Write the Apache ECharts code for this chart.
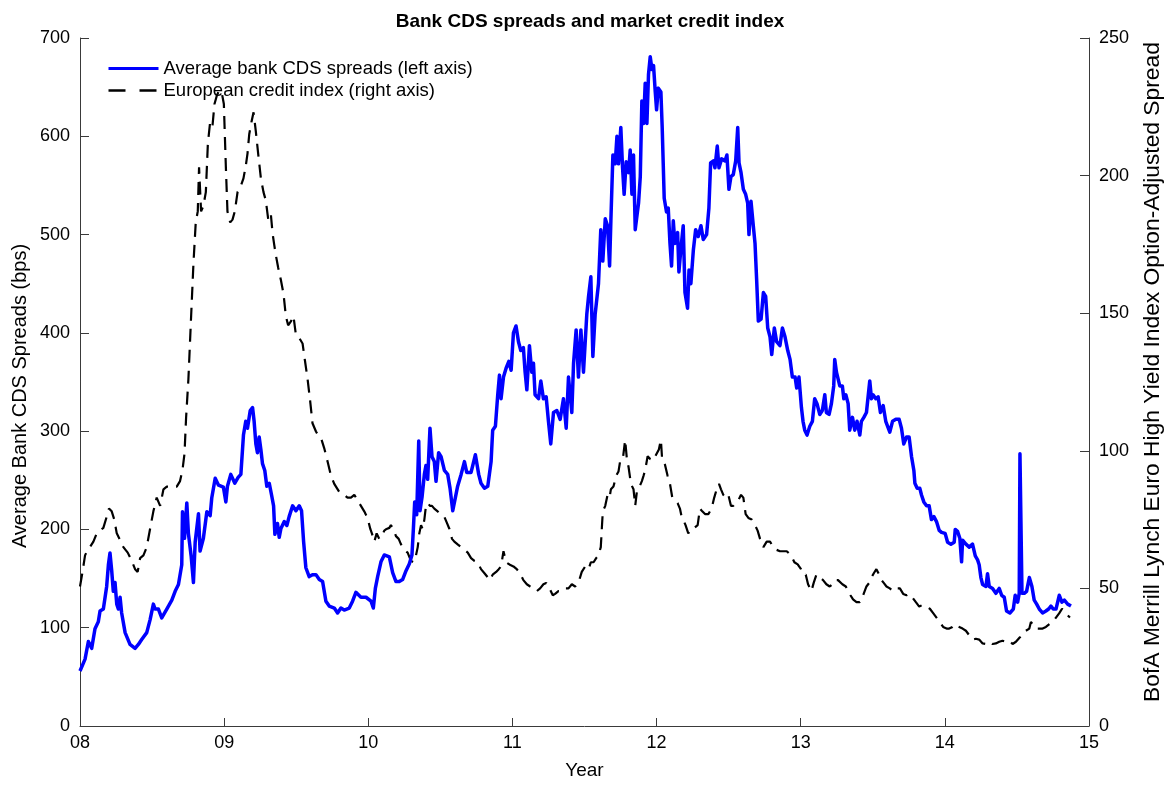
<!DOCTYPE html>
<html>
<head>
<meta charset="utf-8">
<script src="https://cdn.jsdelivr.net/npm/echarts@6/dist/echarts.min.js"></script>
<style>
  html, body { margin: 0; padding: 0; background: #fff; }
  #chart { width: 1172px; height: 785px; }
</style>
</head>
<body>
<div id="chart"></div>
<script>
// Average bank CDS spreads (bps, left axis), sampled in decimal years
const cdsYear = [
  2008.000, 2008.035, 2008.058, 2008.081, 2008.104, 2008.127, 2008.139, 2008.162, 2008.185, 2008.197,
  2008.208, 2008.220, 2008.231, 2008.243, 2008.255, 2008.266, 2008.278, 2008.289, 2008.313, 2008.347,
  2008.382, 2008.405, 2008.428, 2008.463, 2008.486, 2008.509, 2008.521, 2008.544, 2008.567, 2008.602,
  2008.637, 2008.660, 2008.683, 2008.706, 2008.711, 2008.725, 2008.741, 2008.752, 2008.771, 2008.787,
  2008.799, 2008.822, 2008.833, 2008.856, 2008.880, 2008.903, 2008.914, 2008.938, 2008.961, 2008.995,
  2009.012, 2009.023, 2009.046, 2009.058, 2009.074, 2009.097, 2009.116, 2009.134, 2009.150, 2009.162,
  2009.181, 2009.197, 2009.208, 2009.220, 2009.231, 2009.243, 2009.255, 2009.266, 2009.282, 2009.296,
  2009.313, 2009.329, 2009.343, 2009.352, 2009.370, 2009.382, 2009.394, 2009.417, 2009.435, 2009.451,
  2009.475, 2009.498, 2009.521, 2009.537, 2009.551, 2009.567, 2009.590, 2009.613, 2009.637, 2009.660,
  2009.683, 2009.706, 2009.729, 2009.764, 2009.787, 2009.810, 2009.833, 2009.868, 2009.891, 2009.914,
  2009.949, 2009.984, 2010.019, 2010.035, 2010.049, 2010.065, 2010.088, 2010.111, 2010.146, 2010.169,
  2010.192, 2010.215, 2010.238, 2010.262, 2010.285, 2010.303, 2010.313, 2010.322, 2010.336, 2010.350,
  2010.359, 2010.373, 2010.389, 2010.400, 2010.412, 2010.428, 2010.442, 2010.458, 2010.470, 2010.488,
  2010.505, 2010.528, 2010.551, 2010.567, 2010.586, 2010.597, 2010.620, 2010.644, 2010.667, 2010.683,
  2010.713, 2010.743, 2010.766, 2010.782, 2010.806, 2010.829, 2010.852, 2010.863, 2010.882, 2010.898,
  2010.910, 2010.921, 2010.938, 2010.956, 2010.975, 2010.991, 2011.007, 2011.025, 2011.042, 2011.058,
  2011.076, 2011.088, 2011.100, 2011.118, 2011.134, 2011.146, 2011.157, 2011.181, 2011.197, 2011.215,
  2011.234, 2011.250, 2011.266, 2011.285, 2011.308, 2011.331, 2011.354, 2011.373, 2011.389, 2011.412,
  2011.424, 2011.442, 2011.458, 2011.475, 2011.493, 2011.516, 2011.528, 2011.544, 2011.558, 2011.574,
  2011.597, 2011.613, 2011.627, 2011.644, 2011.660, 2011.674, 2011.683, 2011.697, 2011.713, 2011.725,
  2011.736, 2011.752, 2011.764, 2011.775, 2011.789, 2011.806, 2011.817, 2011.829, 2011.840, 2011.852,
  2011.863, 2011.875, 2011.887, 2011.898, 2011.910, 2011.921, 2011.933, 2011.944, 2011.956, 2011.968,
  2011.979, 2011.991, 2012.000, 2012.012, 2012.030, 2012.039, 2012.046, 2012.053, 2012.063, 2012.069,
  2012.081, 2012.093, 2012.104, 2012.116, 2012.127, 2012.146, 2012.155, 2012.169, 2012.185, 2012.197,
  2012.215, 2012.225, 2012.238, 2012.255, 2012.271, 2012.289, 2012.308, 2012.324, 2012.347, 2012.363,
  2012.375, 2012.394, 2012.405, 2012.421, 2012.433, 2012.451, 2012.475, 2012.488, 2012.502, 2012.516,
  2012.532, 2012.549, 2012.563, 2012.572, 2012.586, 2012.602, 2012.618, 2012.632, 2012.641, 2012.655,
  2012.671, 2012.683, 2012.694, 2012.706, 2012.725, 2012.741, 2012.757, 2012.771, 2012.787, 2012.799,
  2012.817, 2012.833, 2012.856, 2012.873, 2012.891, 2012.910, 2012.926, 2012.942, 2012.961, 2012.972,
  2012.988, 2013.005, 2013.016, 2013.028, 2013.044, 2013.063, 2013.081, 2013.097, 2013.113, 2013.132,
  2013.150, 2013.167, 2013.178, 2013.197, 2013.213, 2013.229, 2013.236, 2013.248, 2013.271, 2013.289,
  2013.299, 2013.313, 2013.329, 2013.340, 2013.359, 2013.375, 2013.391, 2013.410, 2013.421, 2013.438,
  2013.456, 2013.468, 2013.479, 2013.491, 2013.502, 2013.521, 2013.537, 2013.553, 2013.572, 2013.590,
  2013.618, 2013.637, 2013.660, 2013.683, 2013.699, 2013.715, 2013.734, 2013.752, 2013.769, 2013.785,
  2013.792, 2013.808, 2013.826, 2013.838, 2013.854, 2013.873, 2013.891, 2013.907, 2013.924, 2013.942,
  2013.961, 2013.977, 2014.002, 2014.019, 2014.042, 2014.065, 2014.072, 2014.088, 2014.104, 2014.116,
  2014.123, 2014.146, 2014.169, 2014.192, 2014.211, 2014.227, 2014.238, 2014.250, 2014.262, 2014.285,
  2014.296, 2014.308, 2014.331, 2014.354, 2014.366, 2014.377, 2014.394, 2014.412, 2014.428, 2014.451,
  2014.475, 2014.488, 2014.505, 2014.516, 2014.521, 2014.530, 2014.535, 2014.551, 2014.567, 2014.586,
  2014.604, 2014.620, 2014.637, 2014.655, 2014.678, 2014.701, 2014.720, 2014.736, 2014.752, 2014.771,
  2014.794, 2014.812, 2014.829, 2014.852, 2014.875
];
const cdsValue = [
  56, 68, 86, 79, 99, 106, 117, 119, 142, 164,
  176, 158, 137, 146, 124, 119, 131, 115, 95, 83,
  79, 83, 88, 95, 108, 124, 119, 119, 110, 119,
  128, 137, 144, 164, 218, 191, 227, 196, 173, 146,
  187, 216, 178, 191, 218, 214, 232, 252, 245, 243,
  228, 244, 256, 258, 247, 253, 256, 296, 310, 303,
  321, 324, 310, 287, 278, 294, 281, 267, 260, 244,
  247, 235, 224, 195, 206, 192, 201, 208, 204, 213,
  224, 219, 224, 219, 188, 161, 152, 154, 154, 149,
  147, 127, 122, 120, 115, 120, 118, 120, 127, 136,
  131, 131, 127, 120, 140, 152, 167, 174, 172, 156,
  147, 147, 149, 158, 165, 174, 201, 228, 215, 290,
  219, 233, 256, 265, 251, 303, 274, 269, 249, 278,
  274, 260, 256, 242, 219, 221, 244, 256, 269, 258,
  258, 276, 256, 247, 242, 244, 269, 301, 305, 337,
  357, 333, 355, 364, 371, 362, 400, 407, 391, 382,
  385, 360, 342, 387, 360, 369, 337, 333, 351, 333,
  335, 310, 287, 319, 321, 312, 333, 303, 355, 319,
  369, 403, 355, 403, 360, 419, 437, 457, 376, 419,
  450, 505, 473, 516, 509, 468, 514, 581, 572, 600,
  572, 609, 568, 541, 574, 563, 586, 541, 581, 505,
  518, 532, 559, 636, 613, 654, 613, 663, 681, 668,
  672, 645, 627, 649, 645, 609, 573, 537, 539, 523,
  527, 491, 468, 514, 491, 502, 462, 486, 509, 441,
  425, 464, 450, 484, 505, 498, 509, 495, 500, 527,
  573, 575, 568, 590, 568, 577, 575, 581, 546, 559,
  561, 575, 609, 573, 563, 546, 541, 532, 500, 534,
  509, 491, 455, 412, 414, 441, 437, 405, 396, 378,
  405, 391, 387, 405, 396, 382, 373, 355, 355, 344,
  355, 324, 310, 301, 296, 305, 310, 333, 328, 317,
  321, 337, 319, 317, 328, 346, 373, 360, 346, 346,
  333, 337, 328, 301, 314, 301, 310, 296, 310, 314,
  319, 317, 351, 333, 337, 333, 335, 319, 326, 310,
  299, 310, 312, 312, 303, 287, 294, 294, 274, 260,
  247, 242, 242, 235, 228, 224, 224, 210, 213, 208,
  199, 197, 196, 187, 185, 187, 200, 198, 191, 167,
  189, 185, 182, 185, 173, 169, 164, 151, 144, 142,
  155, 142, 140, 135, 137, 140, 133, 131, 117, 115,
  119, 133, 126, 135, 277, 277, 135, 135, 137, 151,
  142, 128, 124, 119, 115, 117, 119, 122, 119, 119,
  133, 126, 128, 124, 122
];

// European high yield credit index option-adjusted spread (right axis)
const creditYear = [
  2008.000, 2008.016, 2008.035, 2008.053, 2008.069, 2008.093, 2008.116, 2008.139, 2008.162, 2008.185,
  2008.201, 2008.220, 2008.238, 2008.255, 2008.278, 2008.301, 2008.331, 2008.359, 2008.382, 2008.400,
  2008.417, 2008.440, 2008.463, 2008.486, 2008.509, 2008.532, 2008.556, 2008.579, 2008.602, 2008.637,
  2008.671, 2008.694, 2008.711, 2008.725, 2008.736, 2008.752, 2008.771, 2008.787, 2008.803, 2008.817,
  2008.826, 2008.840, 2008.856, 2008.873, 2008.887, 2008.903, 2008.919, 2008.933, 2008.949, 2008.965,
  2008.984, 2008.998, 2009.012, 2009.023, 2009.042, 2009.058, 2009.074, 2009.093, 2009.111, 2009.134,
  2009.150, 2009.162, 2009.174, 2009.190, 2009.204, 2009.220, 2009.236, 2009.255, 2009.273, 2009.289,
  2009.306, 2009.324, 2009.336, 2009.347, 2009.359, 2009.375, 2009.394, 2009.412, 2009.428, 2009.444,
  2009.463, 2009.481, 2009.498, 2009.521, 2009.544, 2009.560, 2009.579, 2009.597, 2009.613, 2009.637,
  2009.660, 2009.676, 2009.694, 2009.718, 2009.741, 2009.764, 2009.799, 2009.833, 2009.856, 2009.880,
  2009.903, 2009.926, 2009.949, 2009.972, 2009.995, 2010.014, 2010.025, 2010.042, 2010.058, 2010.076,
  2010.095, 2010.111, 2010.127, 2010.146, 2010.157, 2010.174, 2010.192, 2010.211, 2010.227, 2010.250,
  2010.273, 2010.296, 2010.313, 2010.331, 2010.343, 2010.354, 2010.366, 2010.377, 2010.389, 2010.400,
  2010.412, 2010.428, 2010.442, 2010.458, 2010.481, 2010.505, 2010.528, 2010.544, 2010.563, 2010.581,
  2010.597, 2010.620, 2010.644, 2010.667, 2010.690, 2010.713, 2010.736, 2010.759, 2010.782, 2010.806,
  2010.829, 2010.845, 2010.863, 2010.887, 2010.905, 2010.921, 2010.938, 2010.956, 2010.979, 2011.007,
  2011.030, 2011.053, 2011.076, 2011.100, 2011.123, 2011.146, 2011.169, 2011.192, 2011.215, 2011.234,
  2011.257, 2011.280, 2011.296, 2011.319, 2011.343, 2011.366, 2011.389, 2011.412, 2011.435, 2011.458,
  2011.481, 2011.505, 2011.528, 2011.544, 2011.563, 2011.581, 2011.597, 2011.613, 2011.620, 2011.627,
  2011.644, 2011.660, 2011.674, 2011.683, 2011.701, 2011.720, 2011.736, 2011.748, 2011.766, 2011.782,
  2011.794, 2011.806, 2011.822, 2011.840, 2011.852, 2011.863, 2011.882, 2011.898, 2011.910, 2011.921,
  2011.938, 2011.956, 2011.975, 2011.991, 2012.016, 2012.030, 2012.039, 2012.058, 2012.076, 2012.093,
  2012.109, 2012.127, 2012.146, 2012.162, 2012.174, 2012.185, 2012.201, 2012.220, 2012.238, 2012.262,
  2012.285, 2012.301, 2012.317, 2012.336, 2012.359, 2012.382, 2012.400, 2012.417, 2012.433, 2012.447,
  2012.463, 2012.479, 2012.498, 2012.516, 2012.532, 2012.549, 2012.567, 2012.586, 2012.602, 2012.618,
  2012.637, 2012.660, 2012.683, 2012.701, 2012.718, 2012.741, 2012.764, 2012.787, 2012.810, 2012.833,
  2012.856, 2012.880, 2012.903, 2012.933, 2012.956, 2012.979, 2013.002, 2013.019, 2013.035, 2013.051,
  2013.074, 2013.090, 2013.109, 2013.132, 2013.155, 2013.178, 2013.201, 2013.220, 2013.236, 2013.259,
  2013.289, 2013.313, 2013.329, 2013.345, 2013.363, 2013.387, 2013.410, 2013.433, 2013.456, 2013.475,
  2013.491, 2013.507, 2013.525, 2013.544, 2013.560, 2013.576, 2013.595, 2013.618, 2013.641, 2013.664,
  2013.688, 2013.711, 2013.734, 2013.752, 2013.775, 2013.799, 2013.822, 2013.845, 2013.868, 2013.896,
  2013.919, 2013.942, 2013.965, 2013.988, 2014.012, 2014.030, 2014.053, 2014.076, 2014.100, 2014.123,
  2014.146, 2014.169, 2014.192, 2014.215, 2014.238, 2014.262, 2014.285, 2014.308, 2014.331, 2014.354,
  2014.377, 2014.400, 2014.424, 2014.447, 2014.470, 2014.493, 2014.516, 2014.539, 2014.562, 2014.586,
  2014.597, 2014.609, 2014.632, 2014.655, 2014.678, 2014.701, 2014.725, 2014.748, 2014.771, 2014.794,
  2014.813, 2014.829, 2014.852, 2014.868
];
const creditValue = [
  50.7, 55.5, 62, 64, 65, 67, 70, 71, 72, 76,
  79, 78, 75, 70, 67.6, 65, 63, 60, 57, 56,
  61, 62, 65, 71.6, 78, 83, 80, 86, 87, 87,
  87, 89, 93, 99, 112, 126, 149, 168, 183, 187,
  203, 187, 189, 194, 211.5, 219.6, 218, 226, 229, 231,
  230, 226, 203, 187, 183, 184, 187, 194, 195.5, 199,
  203.5, 208, 215, 219.6, 223, 216, 208, 199, 194, 191,
  184, 186, 179, 175, 171, 166.5, 162, 157, 149, 145.6,
  147, 149, 142, 141, 139, 133, 126, 118, 110, 107,
  105, 104, 101, 96, 91, 88, 85, 84, 83, 83,
  84, 82, 80, 78, 75.6, 71.6, 70, 67, 70, 68,
  69, 71, 71.6, 72, 73, 71.6, 69, 68, 66, 64,
  63, 60, 59.5, 62, 65, 70, 73, 71.6, 75, 80,
  81, 80, 80, 79, 78, 77, 76, 74, 71.6, 68,
  67, 66, 65, 64, 63, 61, 60, 59.5, 57, 55.5,
  54, 53, 55, 56, 57, 58, 63.5, 59.5, 58.7, 58,
  57, 55.5, 53, 51.5, 50.7, 50, 49, 50, 51.5, 52,
  50, 47.5, 48, 49, 49, 50, 50, 51.5, 50.7, 52,
  56, 58, 57, 59.5, 59.5, 61, 62, 65, 71.6, 78,
  80, 84, 83, 86, 87, 91, 92.5, 96.5, 97, 104,
  97, 94, 88, 86, 80, 85, 87, 89, 91, 93,
  98, 97, 96.5, 98, 100.5, 104, 96.5, 95, 91, 88,
  83, 82, 81, 79, 76, 75, 73, 70, 71.6, 72,
  73, 79, 78, 77, 77, 79, 83, 86, 88, 86,
  84, 83, 84, 80, 80, 81, 82, 84, 83, 77,
  75.6, 75, 73, 71, 68, 65, 67, 67, 65, 64,
  63.5, 63.5, 63.5, 62, 59.5, 58.7, 57, 55, 55, 51.5,
  49, 52, 55, 54, 53, 51.5, 50.7, 51.5, 53, 53,
  51.5, 50.7, 49, 47.5, 46, 45, 45, 47.5, 50.7, 52,
  54, 55.5, 57, 55, 53, 52, 50.7, 50, 49, 50,
  50, 48, 47.5, 48, 46.7, 45, 43.4, 44, 43.4, 42.6,
  41, 39.4, 37.8, 36, 35.4, 35.4, 36, 37, 36, 35.4,
  34.6, 33, 31.4, 31.7, 31.4, 30, 29.8, 30.6, 29.8, 30,
  30.6, 31, 30.6, 31, 29.8, 30.6, 32, 33, 34.6, 35.4,
  37.8, 37.8, 35.4, 35.4, 35.4, 36, 37, 37.8, 39.4, 41,
  42.6, 41.8, 40.2, 39.4
];

// Axis ranges and tick spacing
const yearTicks = { min: 2008, max: 2015, step: 1 };
const cdsTicks = { min: 0, max: 700, step: 100 };
const creditTicks = { min: 0, max: 250, step: 50 };

const cdsName = 'Average bank CDS spreads (left axis)';
const creditName = 'European credit index (right axis)';
const leftTitle = 'Average Bank CDS Spreads (bps)';
const rightTitle = 'BofA Merrill Lynch Euro High Yield Index Option-Adjusted Spread';

const cdsData = cdsYear.map((t, i) => [t, cdsValue[i]]);
const creditData = creditYear.map((t, i) => [t, creditValue[i]]);

const FONT = 'Liberation Sans, Arial, Helvetica, sans-serif';
const AXIS_COLOR = '#3a3a3a';

const chart = echarts.init(document.getElementById('chart'), null, { renderer: 'canvas' });

chart.setOption({
  animation: false,
  backgroundColor: '#ffffff',
  textStyle: { fontFamily: FONT, color: '#000' },
  title: {
    text: 'Bank CDS spreads and market credit index',
    left: 585, top: 7, textAlign: 'center',
    textStyle: { fontFamily: FONT, fontSize: 19, fontWeight: 'bold', color: '#000' }
  },
  legend: {
    orient: 'vertical',
    left: 102, top: 54,
    itemWidth: 50, itemHeight: 14, itemGap: 3,
    itemStyle: { opacity: 0 },
    textStyle: { fontFamily: FONT, fontSize: 18.5, color: '#000' },
    data: [
      { name: cdsName, lineStyle: { width: 3 } },
      { name: creditName, lineStyle: { width: 2.4, type: [17, 14] } }
    ]
  },
  // rotated y-axis titles
  graphic: [
    {
      type: 'text', x: 20, y: 396, rotation: Math.PI / 2,
      style: { text: leftTitle, fontFamily: FONT, fontSize: 20, fill: '#000',
        align: 'center', verticalAlign: 'middle' }
    },
    {
      type: 'text', x: 1153, y: 372, rotation: Math.PI / 2,
      style: { text: rightTitle, fontFamily: FONT, fontSize: 22.8, fill: '#000',
        align: 'center', verticalAlign: 'middle' }
    }
  ],
  grid: { left: 80, right: 83, top: 38, bottom: 56, containLabel: false },
  xAxis: {
    type: 'value',
    min: yearTicks.min, max: yearTicks.max, interval: yearTicks.step,
    name: 'Year', nameLocation: 'middle', nameGap: 35,
    nameTextStyle: { fontFamily: FONT, fontSize: 19, color: '#000' },
    axisLine: { lineStyle: { color: AXIS_COLOR, width: 1 } },
    axisTick: { inside: true, length: 8, lineStyle: { color: AXIS_COLOR } },
    axisLabel: { fontFamily: FONT, fontSize: 18, color: '#000', margin: 8,
      formatter: v => String(v).slice(2) },
    splitLine: { show: false }
  },
  yAxis: [
    {
      type: 'value', position: 'left',
      min: cdsTicks.min, max: cdsTicks.max, interval: cdsTicks.step,
      axisLine: { show: true, lineStyle: { color: AXIS_COLOR, width: 1 } },
      axisTick: { show: true, inside: true, length: 9, lineStyle: { color: AXIS_COLOR } },
      axisLabel: { fontFamily: FONT, fontSize: 18, color: '#000', margin: 10 },
      splitLine: { show: false }
    },
    {
      type: 'value', position: 'right',
      min: creditTicks.min, max: creditTicks.max, interval: creditTicks.step,
      axisLine: { show: true, lineStyle: { color: AXIS_COLOR, width: 1 } },
      axisTick: { show: true, inside: true, length: 9, lineStyle: { color: AXIS_COLOR } },
      axisLabel: { fontFamily: FONT, fontSize: 18, color: '#000', margin: 10 },
      splitLine: { show: false }
    }
  ],
  series: [
    {
      name: cdsName,
      type: 'line', yAxisIndex: 0,
      data: cdsData,
      showSymbol: false, symbol: 'none',
      lineStyle: { color: '#0000ff', width: 3.5, join: 'round' },
      itemStyle: { color: '#0000ff' },
      z: 3
    },
    {
      name: creditName,
      type: 'line', yAxisIndex: 1,
      data: creditData,
      showSymbol: false, symbol: 'none',
      lineStyle: { color: '#000000', width: 2.2, type: [13, 8] },
      itemStyle: { color: '#000000' },
      z: 2
    }
  ]
});
</script>
</body>
</html>
